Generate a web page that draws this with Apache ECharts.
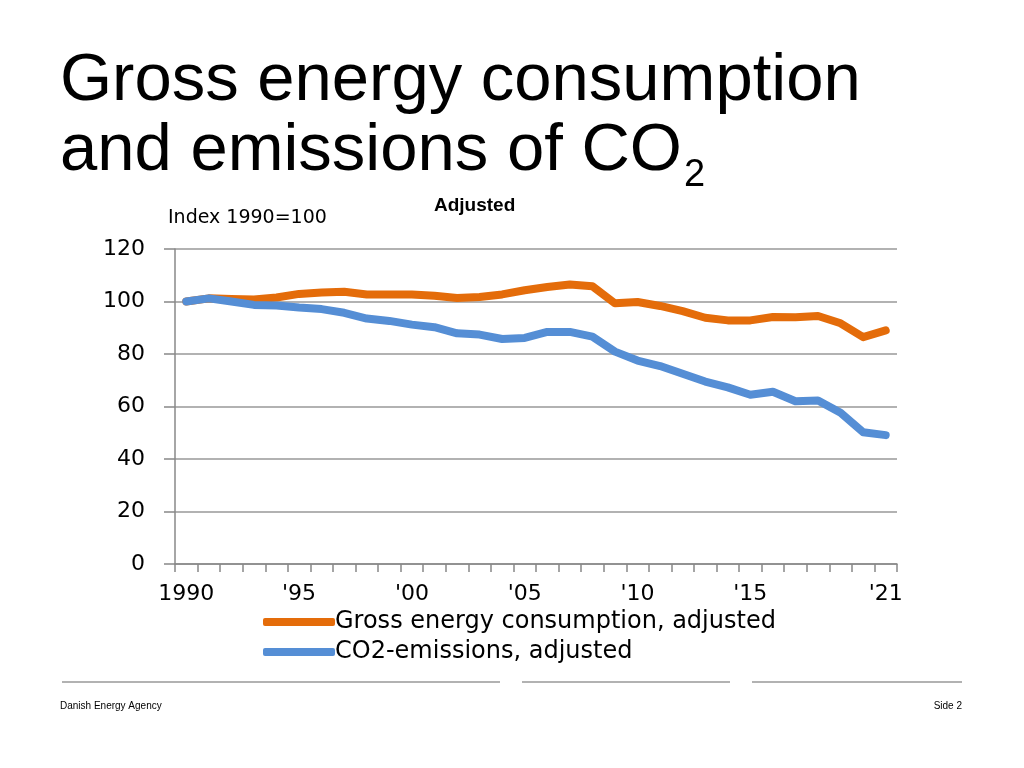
<!DOCTYPE html>
<html>
<head>
<meta charset="utf-8">
<title>Gross energy consumption and emissions of CO2</title>
<script src="https://cdn.jsdelivr.net/npm/echarts@6/dist/echarts.min.js"></script>
<style>
  html, body { margin: 0; padding: 0; background: #fff; }
  #chart { width: 1024px; height: 768px; }
</style>
</head>
<body>
<div id="chart"></div>
<script>
// years on the x axis, index 1990 = 100
const years = [1990, 1991, 1992, 1993, 1994, 1995, 1996, 1997, 1998, 1999,
               2000, 2001, 2002, 2003, 2004, 2005, 2006, 2007, 2008, 2009,
               2010, 2011, 2012, 2013, 2014, 2015, 2016, 2017, 2018, 2019,
               2020, 2021];
const tickLabels = { 1990: '1990', 1995: "'95", 2000: "'00", 2005: "'05",
                     2010: "'10", 2015: "'15", 2021: "'21" };

const grossEnergy = [100, 101.2, 101, 100.8, 101.5, 102.9, 103.4, 103.7, 102.7, 102.7,
                     102.7, 102.2, 101.3, 101.7, 102.7, 104.3, 105.5, 106.5, 105.8, 99.3,
                     99.8, 98.3, 96.3, 93.8, 92.8, 92.8, 94.1, 94.0, 94.5, 91.7,
                     86.4, 89.0];
const co2Emissions = [100, 101.2, 100, 98.7, 98.5, 97.7, 97.1, 95.7, 93.5, 92.6,
                      91.2, 90.2, 87.9, 87.4, 85.7, 86.1, 88.4, 88.4, 86.6, 80.9,
                      77.5, 75.4, 72.5, 69.5, 67.3, 64.5, 65.6, 62.0, 62.3, 57.6,
                      50.2, 49.1];

const seriesNames = ['Gross energy consumption, adjusted', 'CO2-emissions, adjusted'];
const colors = ['#E46C0A', '#558ED5'];

const verdana = 'Verdana, "DejaVu Sans", sans-serif';
const helv = 'Helvetica, Arial, "Liberation Sans", sans-serif';

const chart = echarts.init(document.getElementById('chart'));

chart.setOption({
  animation: false,
  backgroundColor: '#fff',
  color: colors,
  grid: { left: 175, right: 127, top: 249, bottom: 204 },
  legend: {
    orient: 'vertical',
    left: 258,
    top: 605,
    icon: 'roundRect',
    itemWidth: 72,
    itemHeight: 8,
    itemGap: 6,
    textStyle: { fontFamily: verdana, fontSize: 24, color: '#000', padding: [0, 0, 0, -5] },
    data: seriesNames
  },
  xAxis: {
    type: 'category',
    data: years,
    boundaryGap: true,
    axisLine: { lineStyle: { color: '#888', width: 1.5 } },
    axisTick: { show: true, interval: 0, length: 8, lineStyle: { color: '#888', width: 1.5 } },
    axisLabel: {
      interval: 0,
      margin: 19,
      fontFamily: verdana,
      fontSize: 22,
      color: '#000',
      formatter: v => tickLabels[v] || ''
    }
  },
  yAxis: {
    type: 'value',
    min: 0,
    max: 120,
    interval: 20,
    axisLine: { show: true, lineStyle: { color: '#888', width: 1.5 } },
    axisTick: { show: true, length: 11, lineStyle: { color: '#888', width: 1.5 } },
    axisLabel: { fontFamily: verdana, fontSize: 22, color: '#000', margin: 30 },
    splitLine: { lineStyle: { color: '#999', width: 1.5 } }
  },
  series: [
    {
      name: seriesNames[0],
      type: 'line',
      data: grossEnergy,
      symbol: 'none',
      lineStyle: { width: 8, cap: 'round', join: 'round' }
    },
    {
      name: seriesNames[1],
      type: 'line',
      data: co2Emissions,
      symbol: 'none',
      lineStyle: { width: 8, cap: 'round', join: 'round' }
    }
  ],
  graphic: [
    // slide title
    { type: 'text', left: 60, top: 48,
      style: { text: 'Gross energy consumption', font: '67px ' + helv, fill: '#000' } },
    { type: 'text', left: 60, top: 118,
      style: { text: 'and emissions of CO', font: '67px ' + helv, fill: '#000' } },
    { type: 'text', left: 684, top: 157,
      style: { text: '2', font: '38px ' + helv, fill: '#000' } },
    // chart headings
    { type: 'text', left: 434, top: 196,
      style: { text: 'Adjusted', font: 'bold 19px ' + helv, fill: '#000' } },
    { type: 'text', left: 168, top: 209,
      style: { text: 'Index 1990=100', font: '19px ' + verdana, fill: '#000' } },
    // footer rules
    { type: 'line', shape: { x1: 62, y1: 682, x2: 500, y2: 682 },
      style: { stroke: '#999', lineWidth: 1.5 } },
    { type: 'line', shape: { x1: 522, y1: 682, x2: 730, y2: 682 },
      style: { stroke: '#999', lineWidth: 1.5 } },
    { type: 'line', shape: { x1: 752, y1: 682, x2: 962, y2: 682 },
      style: { stroke: '#999', lineWidth: 1.5 } },
    { type: 'text', left: 60, top: 701,
      style: { text: 'Danish Energy Agency', font: '10px ' + helv, fill: '#000' } },
    { type: 'text', right: 62, top: 701,
      style: { text: 'Side 2', font: '10px ' + helv, fill: '#000' } }
  ]
});
</script>
</body>
</html>
